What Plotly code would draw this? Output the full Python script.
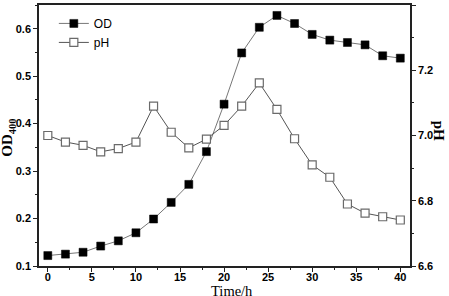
import plotly.graph_objects as go

time_h = [0, 2, 4, 6, 8, 10, 12, 14, 16, 18, 20, 22, 24, 26, 28, 30, 32, 34, 36, 38, 40]
od400 = [0.122, 0.125, 0.129, 0.142, 0.153, 0.170, 0.199, 0.234, 0.272, 0.341, 0.441,
         0.549, 0.603, 0.628, 0.611, 0.588, 0.576, 0.571, 0.566, 0.543, 0.538]
ph = [7.00, 6.98, 6.97, 6.95, 6.96, 6.98, 7.09, 7.01, 6.962, 6.989, 7.031,
      7.09, 7.161, 7.08, 6.99, 6.91, 6.872, 6.79, 6.762, 6.751, 6.741]

tick_font = dict(family="Liberation Sans, Arial", size=11, color="black", weight="bold")

fig = go.Figure()
fig.add_trace(go.Scatter(
    x=time_h, y=od400, name="OD", mode="lines+markers",
    line=dict(color="#777777", width=1),
    marker=dict(symbol="square", size=8, color="black", line=dict(color="black", width=0.5)),
))
fig.add_trace(go.Scatter(
    x=time_h, y=ph, name="pH", mode="lines+markers", yaxis="y2",
    line=dict(color="#555555", width=1),
    marker=dict(symbol="square", size=8, color="white", line=dict(color="#6a6a6a", width=1.2)),
))

fig.update_layout(
    width=449, height=296,
    margin=dict(l=39, r=39, t=5, b=30),
    paper_bgcolor="white", plot_bgcolor="white",
    showlegend=True,
    legend=dict(x=0.04, y=0.985, xanchor="left", yanchor="top",
                bgcolor="rgba(0,0,0,0)", font=dict(family="Liberation Sans, Arial", size=12, color="black"),
                tracegroupgap=0, itemwidth=30),
    xaxis=dict(range=[-1, 41.1], tickvals=[0, 5, 10, 15, 20, 25, 30, 35, 40], automargin=False,
               showgrid=False, zeroline=False, showline=True, linecolor="#222", linewidth=1.5,
               mirror=True, ticks="outside", ticklen=4, tickwidth=1, tickcolor="#222",
               tickfont=tick_font, ticklabelstandoff=-4,
               minor=dict(dtick=2.5, tick0=0, ticks="outside", ticklen=2, tickcolor="#222", showgrid=False)),
    yaxis=dict(range=[0.1, 0.65], tickvals=[0.1, 0.2, 0.3, 0.4, 0.5, 0.6], automargin=False,
               ticktext=["0.1", "0.2", "0.3", "0.4", "0.5", "0.6"],
               showgrid=False, zeroline=False, showline=True, linecolor="#222", linewidth=1.5,
               ticks="outside", ticklen=4, tickwidth=1, tickcolor="#222", tickfont=tick_font,
               minor=dict(dtick=0.05, tick0=0.1, ticks="outside", ticklen=2, tickcolor="#222", showgrid=False)),
    yaxis2=dict(range=[6.6, 7.4], overlaying="y", side="right", automargin=False,
                tickvals=[6.6, 6.8, 7.0, 7.2, 7.4],
                ticktext=["6.6", "6.8", "7.0", "7.2", "7.4"],
                showgrid=False, zeroline=False, showline=True, linecolor="#222", linewidth=1.5,
                ticks="outside", ticklen=4, tickwidth=1, tickcolor="#222", tickfont=tick_font,
                minor=dict(dtick=0.1, tick0=6.6, ticks="outside", ticklen=2, tickcolor="#222", showgrid=False)),
    annotations=[
        dict(text="Time/h", xref="paper", yref="paper", x=0.52, y=-0.094, xanchor="center", yanchor="middle",
             showarrow=False, borderpad=0,
             font=dict(family="Liberation Serif, Times New Roman", size=14.5, color="black")),
        dict(text="<b>OD<sub>400</sub></b>", xref="paper", yref="paper", x=-0.082, y=0.49,
             xanchor="center", yanchor="middle", textangle=-90,
             showarrow=False, font=dict(family="Liberation Serif, Times New Roman", size=15, color="black")),
        dict(text="<b>pH</b>", xref="paper", yref="paper", x=1.077, y=0.52,
             xanchor="center", yanchor="middle", textangle=90,
             showarrow=False, font=dict(family="Liberation Serif, Times New Roman", size=15, color="black")),
    ],
)

fig.write_html("out.html", config={"displayModeBar": False},
               post_script="document.body.style.margin='0';document.body.style.overflow='hidden';")
